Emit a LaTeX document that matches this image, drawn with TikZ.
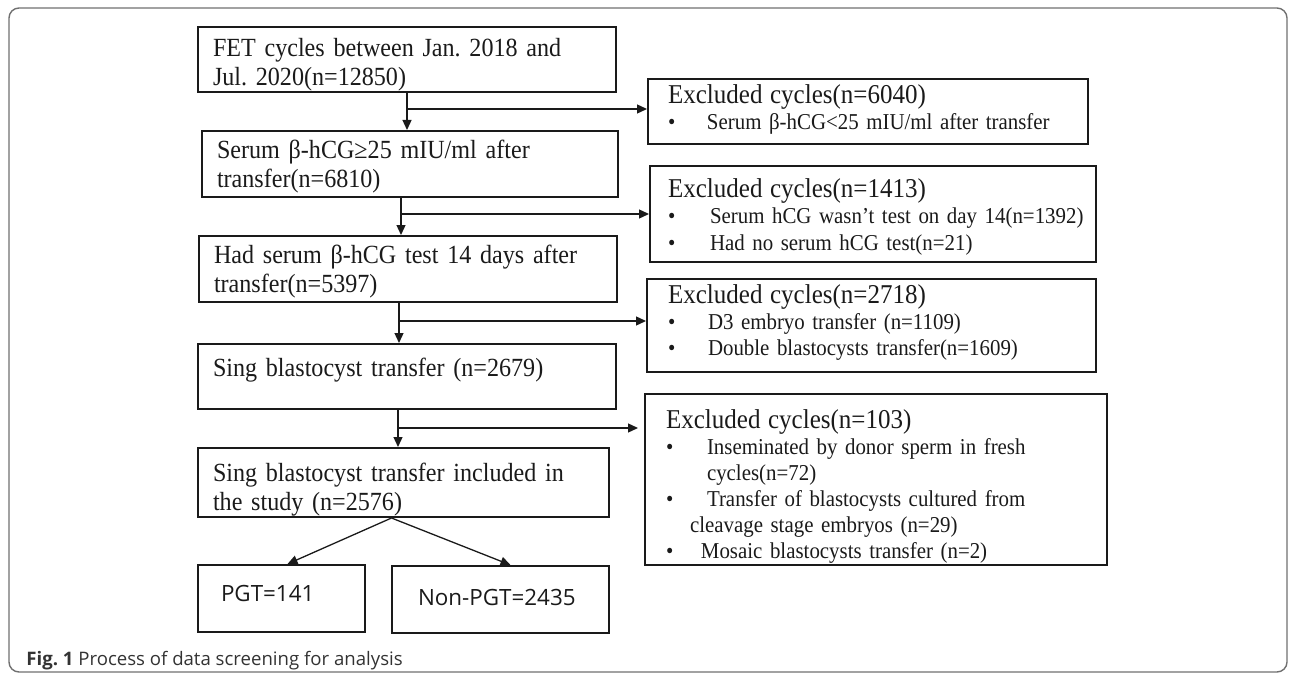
\documentclass[tikz,border=0pt]{standalone}
\usepackage{fontspec}
\setmainfont{Liberation Serif}[FakeStretch=0.92]
\newfontfamily\capfont{Open Sans}
\usetikzlibrary{arrows.meta,calc}

\definecolor{boxline}{HTML}{1A1A1A}
\definecolor{framegray}{HTML}{707070}
\definecolor{captext}{HTML}{333333}

\tikzset{
  mainbox/.style={draw=boxline, text=boxline, line width=1pt, anchor=north west, align=left, inner xsep=7.5pt, inner ysep=0pt, font=\fontsize{13.1}{14.5}\selectfont},
  exclbox/.style={draw=boxline, text=boxline, line width=1pt, anchor=north west, align=left, inner ysep=0pt, font=\fontsize{11.35}{13}\selectfont},
  resbox/.style={draw=boxline, text=boxline, line width=1pt, anchor=north west, align=left, inner ysep=0pt, font=\capfont\fontsize{11.2}{13}\selectfont},
  flow/.style={draw=boxline, line width=0.65pt, ->}
}
\newcommand{\itm}[1][19.5pt]{\makebox[#1][l]{\textbullet}}
\newcommand{\hd}[1]{{\fontsize{13.6}{13}\selectfont #1}}
\frenchspacing

\begin{document}
\begin{tikzpicture}[x=0.5pt, y=-0.5pt, >={Triangle[length=5pt,width=4.5pt]}]
\useasboundingbox (0,0) rectangle (1290,674);
\draw[framegray, line width=0.7pt, rounded corners=5pt] (9,8) rectangle (1287,672);

% main steps
\node[mainbox, text width=194pt, text height=15pt, text depth=17.5pt] (fet) at (197,26) {FET cycles between Jan. 2018 and\\Jul. 2020(n=12850)};
\node[mainbox, text width=193pt, text height=13.5pt, text depth=19.5pt] (serum) at (201,130) {Serum β-hCG≥25 mIU/ml after\\transfer(n=6810)};
\node[mainbox, text width=194pt, text height=13.5pt, text depth=19.5pt] (had) at (198,235) {Had serum β-hCG test 14 days after\\transfer(n=5397)};
\node[mainbox, text width=194pt, text height=16pt, text depth=16.5pt] (sing) at (197,343) {Sing blastocyst transfer (n=2679)};
\node[mainbox, text width=190.5pt, text height=16.5pt, text depth=18pt] (incl) at (197,447) {Sing blastocyst transfer included in\\the study (n=2576)};

\node[resbox, inner xsep=11.5pt, text width=60.5pt, text height=18pt, text depth=15.5pt] (pgt) at (197,564) {PGT=141};
\node[resbox, inner xsep=13pt, text width=82.5pt, text height=19.5pt, text depth=14pt] (npgt) at (391,565) {Non-PGT=2435};

% exclusions
\node[exclbox, inner xsep=10pt, text width=200pt, text height=12.5pt, text depth=20pt] (excl1) at (647,78) {\hd{Excluded cycles(n=6040)}\\\itm Serum β-hCG<25 mIU/ml after transfer};
\node[exclbox, inner xsep=9pt, text width=205pt, text height=16pt, text depth=32pt] (excl2) at (649,165) {\hd{Excluded cycles(n=1413)}\\\mbox{\itm[21pt]Serum hCG wasn’t test on day 14(n=1392)}\\\itm[21pt]Had no serum hCG test(n=21)};
\node[exclbox, inner xsep=10.5pt, text width=203.5pt, text height=12pt, text depth=34.5pt] (excl3) at (646,278) {\hd{Excluded cycles(n=2718)}\\\itm[20pt]D3 embryo transfer (n=1109)\\\itm[20pt]Double blastocysts transfer(n=1609)};
\node[exclbox, inner xsep=10.5pt, text width=210pt, text height=17pt, text depth=68.5pt] (excl4) at (644,393) {\hd{Excluded cycles(n=103)}\\\itm[20.5pt]Inseminated by donor sperm in fresh\\\hspace*{20.5pt}cycles(n=72)\\\itm[20.5pt]Transfer of blastocysts cultured from\\\hspace*{12pt}cleavage stage embryos (n=29)\\\itm[17.5pt]Mosaic blastocysts transfer (n=2)};

% arrows
\draw[flow] (fet.south) -- (fet.south |- serum.north);
\coordinate (b1) at ($(fet.south)+(0,16)$);
\draw[flow] (b1) -- (b1 -| excl1.west);

\coordinate (s2) at ($(serum.south)+(-9,0)$);
\draw[flow] (s2) -- (s2 |- had.north);
\coordinate (b2) at ($(s2)+(0,16)$);
\draw[flow] (b2) -- (b2 -| excl2.west);

\coordinate (s3) at ($(had.south)+(-9,0)$);
\draw[flow] (s3) -- (s3 |- sing.north);
\coordinate (b3) at ($(s3)+(0,18)$);
\draw[flow] (b3) -- (b3 -| excl3.west);

\coordinate (s4) at ($(sing.south)+(-9,0)$);
\draw[flow] (s4) -- (s4 |- incl.north);
\coordinate (b4) at ($(s4)+(0,18)$);
\draw[flow] (b4) -- ($(b4 -| excl4.west)+(-6,0)$);

\coordinate (s5) at ($(incl.south)+(-12,0)$);
\draw[flow] (s5) -- ($(pgt.north)+(6,0)$);
\draw[flow] (s5) -- ($(npgt.north)+(10,0)$);

\node[anchor=base west, inner sep=0pt, text=captext, font=\capfont\fontsize{9.3}{11}\selectfont] (cap) at (26,665) {\textbf{Fig. 1} Process of data screening for analysis};
\end{tikzpicture}
\end{document}
